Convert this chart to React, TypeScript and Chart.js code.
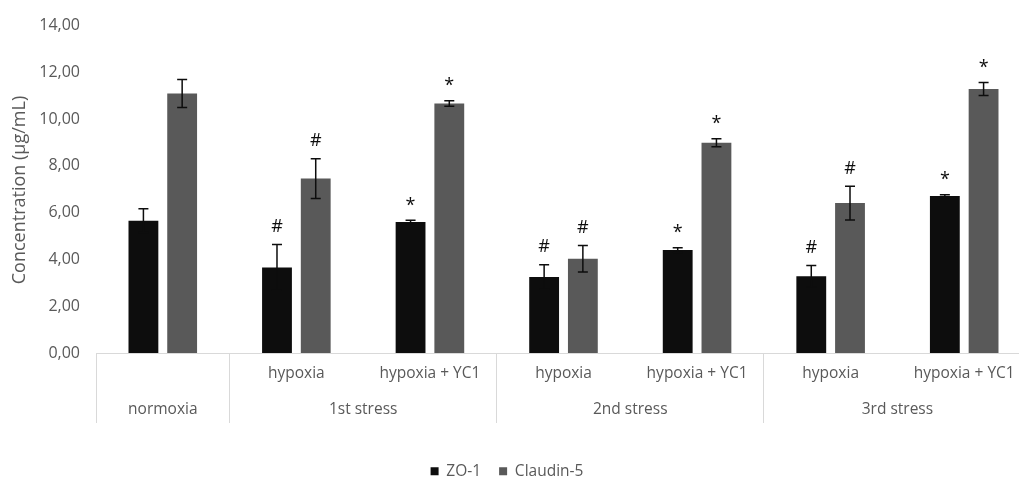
import React, { useEffect, useRef } from "react";
import { Chart, registerables } from "chart.js";

Chart.register(...registerables);

// ---- data ----
const rowLabels = ["", "hypoxia", "hypoxia + YC1", "hypoxia", "hypoxia + YC1", "hypoxia", "hypoxia + YC1"];
const groupLabels = ["normoxia", "1st stress", "2nd stress", "3rd stress"];
const groupCenters = [0, 1.5, 3.5, 5.5];
const groupBoundaries = [0, 1, 3, 5];
const seriesNames = ["ZO-1", "Claudin-5"];
const zo1Values = [5.66, 3.66, 5.6, 3.25, 4.4, 3.28, 6.71];
const zo1Errors = [0.51, 0.98, 0.08, 0.52, 0.1, 0.46, 0.06];
const claudinValues = [11.1, 7.46, 10.67, 4.03, 8.99, 6.41, 11.29];
const claudinErrors = [0.6, 0.85, 0.12, 0.57, 0.17, 0.72, 0.28];
const zo1Marks = ["", "#", "*", "#", "*", "#", "*"];
const claudinMarks = ["", "#", "*", "#", "*", "#", "*"];
const yTickValues = [0, 2, 4, 6, 8, 10, 12, 14];
const yTitle = "Concentration (µg/mL)";

const FONT = '"Open Sans", "Noto Sans", sans-serif';
const TEXT = "#595959";
const LINE = "#d9d9d9";

const extrasPlugin = {
  id: "extras",
  afterLayout(chart: any) {
    const lg = chart.legend;
    if (lg) {
      lg.left -= 8.5;
      lg.right -= 8.5;
    }
  },
  afterDatasetsDraw(chart: any) {
    const ctx = chart.ctx;
    const y = chart.scales.y;
    const sets = [
      { values: zo1Values, errors: zo1Errors, marks: zo1Marks },
      { values: claudinValues, errors: claudinErrors, marks: claudinMarks },
    ];
    sets.forEach((s, di) => {
      const meta = chart.getDatasetMeta(di);
      meta.data.forEach((bar: any, i: number) => {
        const x = bar.x;
        const top = y.getPixelForValue(s.values[i] + s.errors[i]);
        const bot = y.getPixelForValue(s.values[i] - s.errors[i]);
        ctx.save();
        ctx.strokeStyle = "#0d0d0d";
        ctx.lineWidth = 1.5;
        ctx.beginPath();
        ctx.moveTo(x, top);
        ctx.lineTo(x, bot);
        ctx.moveTo(x - 5, top);
        ctx.lineTo(x + 5, top);
        ctx.moveTo(x - 5, bot);
        ctx.lineTo(x + 5, bot);
        ctx.stroke();
        const m = s.marks[i];
        if (m) {
          ctx.font = `18px ${FONT}`;
          ctx.textAlign = "center";
          ctx.textBaseline = "alphabetic";
          ctx.fillStyle = "#0d0d0d";
          const tm = ctx.measureText(m);
          const cy = top - 19;
          ctx.fillText(m, x, cy + (tm.actualBoundingBoxAscent - tm.actualBoundingBoxDescent) / 2);
        }
        ctx.restore();
      });
    });
  },
  afterDraw(chart: any) {
    const ctx = chart.ctx;
    ctx.save();
    ctx.translate(20, 190);
    ctx.rotate(-Math.PI / 2);
    ctx.font = `18px ${FONT}`;
    ctx.fillStyle = TEXT;
    ctx.textAlign = "center";
    ctx.textBaseline = "middle";
    ctx.fillText(yTitle, 0, 0);
    ctx.restore();
  },
};

export default function App() {
  const ref = useRef<HTMLCanvasElement | null>(null);

  useEffect(() => {
    if (!ref.current) return;
    const chart = new Chart(ref.current, {
      type: "bar",
      data: {
        labels: rowLabels,
        datasets: [
          {
            label: seriesNames[0],
            data: zo1Values,
            backgroundColor: "#0d0d0d",
            borderWidth: 0,
            categoryPercentage: 0.58,
            barPercentage: 0.77,
          },
          {
            label: seriesNames[1],
            data: claudinValues,
            backgroundColor: "#595959",
            borderWidth: 0,
            categoryPercentage: 0.58,
            barPercentage: 0.77,
          },
        ],
      },
      options: {
        responsive: false,
        animation: false,
        devicePixelRatio: 1,
        layout: { padding: { top: 24, right: 9, left: 0, bottom: 0 } },
        plugins: {
          tooltip: { enabled: false },
          legend: {
            position: "bottom",
            labels: {
              boxWidth: 8,
              boxHeight: 8,
              padding: 18,
              color: TEXT,
              font: { family: FONT, size: 15.5 },
            },
          },
        },
        scales: {
          x: {
            type: "category",
            position: "bottom",
            weight: 0,
            offset: true,
            grid: {
              display: true,
              offset: true,
              drawOnChartArea: false,
              drawTicks: true,
              tickLength: 70,
              lineWidth: 1,
              color: (c: any) =>
                c.index === undefined || groupBoundaries.includes(c.index) ? LINE : "rgba(0,0,0,0)",
            },
            border: { display: true, color: LINE, width: 1 },
            ticks: {
              padding: -59,
              autoSkip: false,
              maxRotation: 0,
              color: TEXT,
              font: { family: FONT, size: 15.5 },
            },
            afterFit: (s: any) => {
              s.height = 30;
            },
          },
          x2: {
            type: "linear",
            position: "bottom",
            weight: 1,
            min: -0.5,
            max: 6.5,
            offset: false,
            grid: { display: false, drawTicks: false },
            border: { display: false },
            afterBuildTicks: (s: any) => {
              s.ticks = groupCenters.map((v) => ({ value: v }));
            },
            ticks: {
              autoSkip: false,
              maxRotation: 0,
              padding: 17,
              color: TEXT,
              font: { family: FONT, size: 15.5 },
              callback: (_v: any, i: number) => groupLabels[i],
            },
            afterFit: (s: any) => {
              s.height = 62.5;
            },
          },
          y: {
            min: 0,
            max: 14,
            grid: { display: false, drawTicks: false },
            border: { display: false },
            afterBuildTicks: (s: any) => {
              s.ticks = yTickValues.map((v) => ({ value: v }));
            },
            ticks: {
              padding: 16,
              color: TEXT,
              font: { family: FONT, size: 16 },
              callback: (v: any) => Number(v).toFixed(2).replace(".", ","),
            },
            afterFit: (s: any) => {
              s.width = 96;
            },
          },
        },
      },
      plugins: [extrasPlugin],
    });
    return () => chart.destroy();
  }, []);

  return (
    <div
      style={{
        position: "fixed",
        left: 0,
        top: 0,
        width: 1019,
        height: 478,
        overflow: "hidden",
        background: "#ffffff",
      }}
    >
      <canvas ref={ref} width={1040} height={489} style={{ display: "block", width: 1040, height: 489 }} />
    </div>
  );
}
